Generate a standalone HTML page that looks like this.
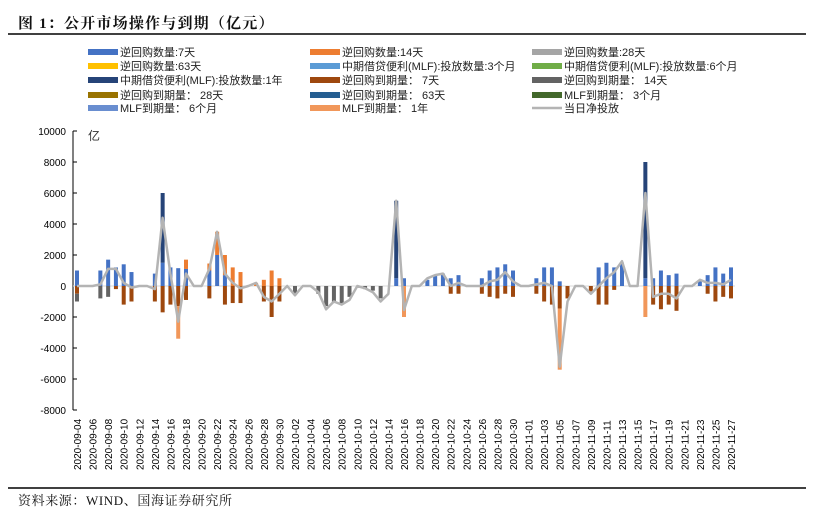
<!DOCTYPE html>
<html><head><meta charset="utf-8"><style>
body{margin:0;background:#fff;width:815px;height:515px;overflow:hidden;font-family:"Liberation Sans","Noto Sans CJK SC",sans-serif}
svg text{font-family:"Liberation Sans","Noto Sans CJK SC",sans-serif}
svg text.serif{font-family:"Liberation Serif","Noto Serif CJK SC",serif}
</style></head><body>
<svg id="c" width="815" height="515">
<text class="serif" x="18" y="28" font-size="15" font-weight="bold" letter-spacing="1.2" fill="#111">图 1：公开市场操作与到期（亿元）</text>
<line x1="8" y1="34" x2="806" y2="34" stroke="#000" stroke-width="1.5"/>
<line x1="8" y1="488" x2="806" y2="488" stroke="#000" stroke-width="1.5"/>
<text class="serif" x="18" y="505" font-size="13" letter-spacing="0.6" fill="#111">资料来源：WIND、国海证券研究所</text>
<text x="88" y="140" font-size="12" fill="#333">亿</text>
<g id="legend"></g><g id="axes"></g><g id="bars"></g><g id="line"></g>
</svg>
<script>
const startDate = "2020-09-04";
const nDays = 85;
const rr7   = [1000,0,0,1000,1700,1200,1400,900,0,0,800,1500,1200,1150,1100,0,0,1000,2000,700,0,0,0,0,0,0,0,0,0,0,0,0,0,0,0,0,0,0,0,0,0,500,500,0,0,400,650,800,500,700,0,0,500,1000,1200,1400,1000,0,0,500,1200,1200,300,0,0,0,0,1200,1500,1200,1500,0,0,500,500,1000,700,800,0,0,300,700,1200,800,1200];
const rr14  = [0,0,0,0,0,0,0,0,0,0,0,0,0,0,600,0,0,450,1500,1300,1200,900,0,200,400,1000,500,0,0,0,0,0,0,0,0,0,0,0,0,0,0,0,0,0,0,0,0,0,0,0,0,0,0,0,0,0,0,0,0,0,0,0,0,0,0,0,0,0,0,0,0,0,0,0,0,0,0,0,0,0,0,0,0,0,0];
const mlf1y = [0,0,0,0,0,0,0,0,0,0,0,4500,0,0,0,0,0,0,0,0,0,0,0,0,0,0,0,0,0,0,0,0,0,0,0,0,0,0,0,0,0,5000,0,0,0,0,0,0,0,0,0,0,0,0,0,0,0,0,0,0,0,0,0,0,0,0,0,0,0,0,0,0,0,7500,0,0,0,0,0,0,0,0,0,0,0];
const mat7  = [-500,0,0,0,0,-200,-1200,-1000,0,0,-1000,-1700,-1200,-1300,-900,0,0,-800,0,-1200,-1100,-1100,0,0,-1000,-2000,-1000,0,0,0,0,0,0,0,0,0,0,0,0,0,0,0,0,0,0,0,0,0,-500,-500,0,0,-500,-700,-800,-500,-700,0,0,-500,-1000,-1200,-1450,-800,0,0,-350,-1200,-1200,-250,0,0,0,0,-1200,-1500,-1200,-1600,0,0,0,-500,-1000,-700,-800];
const mat14 = [-500,0,0,-800,-700,0,0,0,0,0,0,0,0,0,0,0,0,0,0,0,0,0,0,0,0,0,0,0,-500,0,0,-500,-1300,-1100,-1150,-700,0,-200,-300,-800,0,0,0,0,0,0,0,0,0,0,0,0,0,0,0,0,0,0,0,0,0,0,0,0,0,0,0,0,0,0,0,0,0,0,0,0,0,0,0,0,0,0,0,0,0];
const matMlf1y = [0,0,0,0,0,0,0,0,0,0,0,0,0,-2100,0,0,0,0,0,0,0,0,0,0,0,0,0,0,0,0,0,0,0,0,0,0,0,0,0,0,0,0,-2000,0,0,0,0,0,0,0,0,0,0,0,0,0,0,0,0,0,0,0,-3950,0,0,0,0,0,0,0,0,0,0,-2000,0,0,0,0,0,0,0,0,0,0,0];
const net   = [0,0,0,100,1100,1100,200,-100,0,0,-200,4400,800,-2300,800,0,0,1100,3500,800,200,-150,0,200,-700,-1000,-500,0,-600,0,0,-400,-1500,-1000,-1200,-900,0,-150,-400,-1000,-500,5500,-1550,0,0,500,700,800,0,200,0,0,0,300,400,900,300,0,0,100,200,0,-5200,-1000,0,0,-500,0,500,900,1600,0,0,6000,-700,-500,-500,-800,0,0,400,200,200,100,400];
const yTicks = [10000,8000,6000,4000,2000,0,-2000,-4000,-6000,-8000];
const legendItems = [
 ["逆回购数量:7天","#4472C4","bar"],["逆回购数量:14天","#ED7D31","bar"],["逆回购数量:28天","#A5A5A5","bar"],
 ["逆回购数量:63天","#FFC000","bar"],["中期借贷便利(MLF):投放数量:3个月","#5B9BD5","bar"],["中期借贷便利(MLF):投放数量:6个月","#70AD47","bar"],
 ["中期借贷便利(MLF):投放数量:1年","#264478","bar"],["逆回购到期量： 7天","#9E480E","bar"],["逆回购到期量： 14天","#636363","bar"],
 ["逆回购到期量： 28天","#997300","bar"],["逆回购到期量： 63天","#255E91","bar"],["MLF到期量： 3个月","#43682B","bar"],
 ["MLF到期量： 6个月","#698ED0","bar"],["MLF到期量： 1年","#F1975A","bar"],["当日净投放","#B4B4B4","line"]];

const NS="http://www.w3.org/2000/svg";
function mk(t,a,p){const e=document.createElementNS(NS,t);for(const k in a)e.setAttribute(k,a[k]);p.appendChild(e);return e;}
const X0=77, X1=731, Y0=286, PER=31/2000;
const xs=i=>X0+i*(X1-X0)/(nDays-1);
const ys=v=>Y0-v*PER;

const lg=document.getElementById('legend');
const colX=[88,310,532], rowY=[52,66,80,95,108];
legendItems.forEach((it,i)=>{
  const cx=colX[i%3], cy=rowY[Math.floor(i/3)];
  const g=mk('g',{},lg);
  
  
  if(it[2]==='bar') mk('rect',{x:cx,y:cy-3,width:30,height:6,fill:it[1]},g);
  else mk('line',{x1:cx,y1:cy,x2:cx+30,y2:cy,stroke:it[1],'stroke-width':2.5},g);
  const t=mk('text',{x:cx+32,y:cy+4,'font-size':11,fill:'#222'},g); t.textContent=it[0];
});

const ax=document.getElementById('axes');
const yl=mk('line',{x1:73,y1:ys(10000),x2:73,y2:ys(-8000),stroke:'#000','stroke-width':1},ax);
 
yTicks.forEach(v=>{
  mk('line',{x1:73,y1:ys(v),x2:77,y2:ys(v),stroke:'#000'},ax);
  const t=mk('text',{x:66,y:ys(v)+4,'font-size':10,'text-anchor':'end',fill:'#000'},ax);
   
  t.textContent=v;
});
const xl=mk('line',{x1:73,y1:Y0,x2:X1+4,y2:Y0,stroke:'#d9d9d9','stroke-width':1},ax);
 
const d0=new Date(startDate+"T00:00:00Z");
for(let i=0;i<nDays;i+=2){
  const d=new Date(d0.getTime()+i*86400000);
  const s=d.toISOString().slice(0,10);
  const x=xs(i)+4;
  const t=mk('text',{x:x,y:470,'font-size':10,fill:'#000',transform:`rotate(-90 ${x} 470)`},ax);
   
  t.textContent=s;
}

const bg=document.getElementById('bars');
const W=4;
function stack(series,colors){
  for(let i=0;i<nDays;i++){
    let acc=0;
    series.forEach((s,k)=>{
      const v=s[i]; if(!v) return;
      const a=ys(acc), b=ys(acc+v);
      const r=mk('rect',{x:xs(i)-W/2,y:Math.min(a,b),width:W,height:Math.abs(a-b),fill:colors[k]},bg);
      
      
      acc+=v;
    });
  }
}
stack([rr7,rr14,mlf1y],["#4472C4","#ED7D31","#264478"]);
stack([mat7,mat14,matMlf1y],["#9E480E","#636363","#F1975A"]);

const pts=net.map((v,i)=>xs(i).toFixed(1)+","+ys(v).toFixed(1)).join(" ");
const pl=mk('polyline',{points:pts,fill:'none',stroke:'#B4B4B4','stroke-width':2.5,'stroke-linejoin':'round'},document.getElementById('line'));


</script>
</body></html>
